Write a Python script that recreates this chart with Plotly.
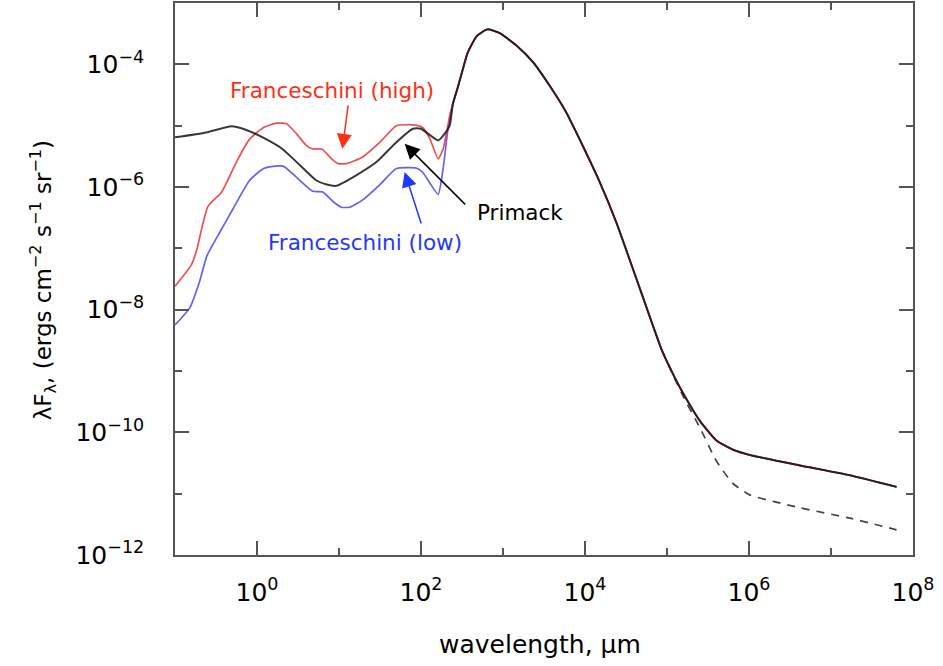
import plotly.graph_objects as go

# ---- data (log10 of wavelength in micron, log10 of lambda*F_lambda) ----
primack_logx = [-1.0, -0.62, -0.31, -0.13, 0.11, 0.31, 0.52, 0.72, 0.85, 0.97, 1.21, 1.46,
                1.70, 1.90, 2.00, 2.21, 2.29, 2.35]
primack_logy = [-5.19, -5.11, -5.01, -5.07, -5.22, -5.38, -5.64, -5.89, -5.96, -5.98, -5.81, -5.59,
                -5.27, -5.05, -5.05, -5.24, -5.13, -5.00]

high_logx = [-1.0, -0.80, -0.74, -0.60, -0.43, -0.25, -0.09, 0.08, 0.24, 0.36, 0.48, 0.60, 0.68,
             0.79, 0.91, 0.99, 1.09, 1.29, 1.50, 1.70, 1.94, 2.02, 2.11, 2.21, 2.27, 2.35]
high_logy = [-7.62, -7.27, -7.05, -6.32, -6.08, -5.59, -5.22, -5.03, -4.96, -4.97, -5.13, -5.32, -5.38,
             -5.38, -5.54, -5.62, -5.62, -5.51, -5.27, -5.00, -4.99, -5.03, -5.22, -5.54, -5.38, -4.84]

low_logx = [-1.0, -0.82, -0.70, -0.61, -0.45, -0.29, -0.09, 0.08, 0.22, 0.32, 0.48, 0.68, 0.80,
            0.93, 1.03, 1.13, 1.29, 1.50, 1.70, 1.94, 2.02, 2.11, 2.21, 2.27, 2.33]
low_logy = [-8.25, -7.97, -7.54, -7.12, -6.73, -6.35, -5.89, -5.70, -5.66, -5.66, -5.84, -6.07, -6.08,
            -6.24, -6.33, -6.33, -6.21, -5.96, -5.70, -5.69, -5.76, -5.94, -6.12, -5.70, -5.05]

# shared far-IR / radio part (all three models coincide)
shared_logx = [2.39, 2.45, 2.50, 2.57, 2.68, 2.81, 2.96, 3.17, 3.37, 3.57, 3.77, 3.97, 4.18, 4.38,
               4.66, 4.94, 5.10, 5.20, 5.40, 5.60, 5.80, 6.01, 6.62, 7.23, 7.80]
shared_logy = [-4.64, -4.37, -4.13, -3.81, -3.54, -3.43, -3.49, -3.70, -3.97, -4.35, -4.78, -5.32, -5.92, -6.57,
               -7.62, -8.67, -9.12, -9.37, -9.81, -10.13, -10.28, -10.37, -10.54, -10.70, -10.89]

# dashed branch (without radio component)
dashed_logx = [4.94, 5.10, 5.20, 5.40, 5.60, 5.80, 6.01, 6.62, 7.23, 7.80]
dashed_logy = [-8.67, -9.14, -9.42, -9.92, -10.46, -10.83, -11.02, -11.23, -11.40, -11.59]

y_tick_vals = [1e-12, 1e-10, 1e-8, 1e-6, 1e-4]
y_tick_text = ["10<sup>−12</sup>", "10<sup>−10</sup>", "10<sup>−8</sup>", "10<sup>−6</sup>", "10<sup>−4</sup>"]
y_minor_vals = [1e-11, 1e-9, 1e-7, 1e-5, 1e-3]
x_tick_vals = [1e0, 1e2, 1e4, 1e6, 1e8]
x_tick_text = ["10<sup>0</sup>", "10<sup>2</sup>", "10<sup>4</sup>", "10<sup>6</sup>", "10<sup>8</sup>"]
x_minor_vals = [1e-1, 1e1, 1e3, 1e5, 1e7]


def pw(vals):
    return [10 ** v for v in vals]


fig = go.Figure()
SM = 0.5
fig.add_trace(go.Scatter(x=pw(dashed_logx), y=pw(dashed_logy), mode="lines",
                         line=dict(color="#444444", width=1.7, dash="8px,7px", shape="spline", smoothing=SM),
                         showlegend=False))
fig.add_trace(go.Scatter(x=pw(low_logx + shared_logx), y=pw(low_logy + shared_logy), mode="lines",
                         line=dict(color="rgba(70,70,245,0.85)", width=1.7, shape="spline", smoothing=SM),
                         showlegend=False))
fig.add_trace(go.Scatter(x=pw(high_logx + shared_logx), y=pw(high_logy + shared_logy), mode="lines",
                         line=dict(color="rgba(232,50,50,0.85)", width=1.7, shape="spline", smoothing=SM),
                         showlegend=False))
fig.add_trace(go.Scatter(x=pw(primack_logx + shared_logx), y=pw(primack_logy + shared_logy), mode="lines",
                         line=dict(color="rgba(25,20,20,0.85)", width=2.0, shape="spline", smoothing=SM),
                         showlegend=False))

FONT = "DejaVu Sans, Verdana, sans-serif"
annotations = [
    dict(x=0.911, y=-4.42, xref="x", yref="y", text="Franceschini (high)", showarrow=False,
         font=dict(family=FONT, size=21.5, color="#ff2e14")),
    dict(x=1.322, y=-6.90, xref="x", yref="y", text="Franceschini (low)", showarrow=False,
         font=dict(family=FONT, size=21.5, color="#1f38ff")),
    dict(x=3.213, y=-6.41, xref="x", yref="y", text="Primack", showarrow=False,
         font=dict(family=FONT, size=21.5, color="#000000")),
    # arrows
    dict(x=1.041, y=-5.378, xref="x", yref="y", text="", showarrow=True, ax=6, ay=-45,
         arrowhead=2, arrowsize=2, arrowwidth=1.5, arrowcolor="#ff2e14"),
    dict(x=1.801, y=-5.755, xref="x", yref="y", text="", showarrow=True, ax=17, ay=53,
         arrowhead=2, arrowsize=2, arrowwidth=1.5, arrowcolor="#1f38ff"),
    dict(x=1.801, y=-5.297, xref="x", yref="y", text="", showarrow=True, ax=62, ay=62,
         arrowhead=2, arrowsize=2, arrowwidth=1.5, arrowcolor="#000000"),
    # axis titles
    dict(x=0.4946, y=-0.163, xref="paper", yref="paper", text="wavelength, µm", showarrow=False,
         xanchor="center", yanchor="middle", font=dict(family=FONT, size=25, color="#000000")),
    dict(x=-0.180, y=0.498, xref="paper", yref="paper", textangle=-90, showarrow=False,
         xanchor="center", yanchor="middle",
         text="λF<sub>λ</sub>, (ergs cm<sup>−2</sup> s<sup>−1</sup> sr<sup>−1</sup>)",
         font=dict(family=FONT, size=23, color="#000000")),
]

axis_common = dict(
    type="log", showgrid=False, zeroline=False,
    showline=True, linecolor="#555555", linewidth=1.6, mirror="allticks",
    ticks="inside", ticklen=14, tickwidth=1.5, tickcolor="#555555",
    tickfont=dict(family=FONT, size=25, color="#000000"),
)

fig.update_xaxes(range=[-1, 8.0005], tickmode="array", tickvals=x_tick_vals, ticktext=x_tick_text,
                 minor=dict(tickmode="array", tickvals=x_minor_vals, ticks="inside", ticklen=7,
                            tickwidth=1.5, tickcolor="#555555"),
                 ticklabelstandoff=14, **axis_common)
fig.update_yaxes(range=[-12.0005, -3], tickmode="array", tickvals=y_tick_vals, ticktext=y_tick_text,
                 minor=dict(tickmode="array", tickvals=y_minor_vals, ticks="inside", ticklen=7,
                            tickwidth=1.5, tickcolor="#555555"),
                 ticklabelstandoff=24, **axis_common)

fig.update_layout(width=943, height=666, margin=dict(l=175, r=30, t=1, b=111),
                  plot_bgcolor="white", paper_bgcolor="white", annotations=annotations,
                  font=dict(family=FONT))

fig.write_html("out.html")
